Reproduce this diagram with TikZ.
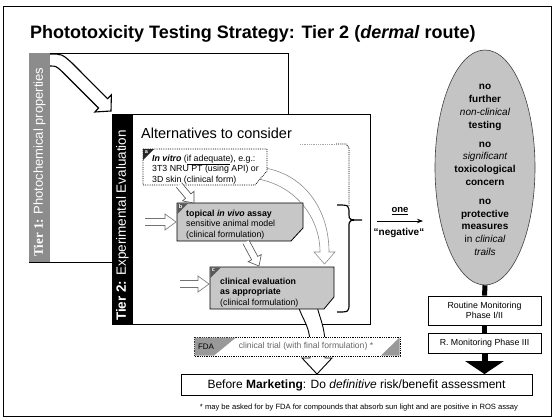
\documentclass[tikz,border=0pt]{standalone}
\usepackage{fontspec}
\setmainfont{Liberation Sans}
\newfontfamily\serifbf{Liberation Serif}
\usetikzlibrary{arrows.meta,shapes.geometric,calc}
\newcommand\fatarrow[6][]{%
  \coordinate (fas) at (#2);
  \coordinate (fae) at (#3);
  \coordinate (fab) at ($(fae)!#6!(fas)$);
  \draw[#1] ($(fas)!#4!90:(fae)$) -- ($(fab)!#4!90:(fae)$) -- ($(fab)!#5!90:(fae)$) -- (fae)
     -- ($(fab)!#5!-90:(fae)$) -- ($(fab)!#4!-90:(fae)$) -- ($(fas)!#4!-90:(fae)$);
}
\tikzset{
  boxtext/.style={anchor=north west, align=left, inner sep=0, font=\fontsize{8.8}{10.5}\selectfont},
  gbox/.style={draw, line width=0.8pt, fill=black!22},
  corner/.style={fill=black!65},
  cletter/.style={text=white, inner sep=0, font=\fontsize{5.5}{6}\selectfont\bfseries},
  smallarrow/.style={draw=black!70, line width=0.6pt, fill=white},
  inarrow/.style={draw=black!55, line width=0.6pt, fill=white},
  mbox/.style={draw, line width=0.8pt, fill=white, minimum width=113pt, align=center, inner sep=1pt, font=\fontsize{8.8}{10.5}\selectfont},
}
\begin{document}
\begin{tikzpicture}[x=1pt,y=-1pt]
\useasboundingbox (0,0) rectangle (554,418);
\fill[white] (0,0) rectangle (554,418);
\draw[line width=1pt] (3,6) rectangle (551,416);

% title
\node[anchor=base west, inner sep=0, font=\fontsize{18}{20}\selectfont\bfseries] (title) at (30,38)
  {Phototoxicity Testing Strategy: Tier 2 (\textit{dermal} route)};

% Tier 1
\draw[line width=0.8pt, fill=white] (29,53) rectangle (288,262);
\fill[black!45] (29,53) rectangle (50,262);
\node[rotate=90, anchor=west, text=white, inner sep=0, font=\fontsize{13}{15}\selectfont] (t1) at (39.5,257)
  {{\serifbf\bfseries Tier 1:} Photochemical properties};

% big arrow tier1 -> tier2
\draw[line width=1.1pt, fill=white, line join=miter]
  (50,54) .. controls (62,54) .. (72,63) -- (107.6,98.7) -- (111.4,94.8) -- (111,111)
  -- (94.8,112) -- (98.6,108.1) -- (62,71.5) .. controls (56,66) .. (50,66);

% Tier 2
\draw[line width=0.8pt, fill=white] (112,114) rectangle (370,324);
\fill[black] (112,114) rectangle (133,324);
\node[rotate=90, anchor=west, text=white, inner sep=0, font=\fontsize{13.5}{15}\selectfont] (t2) at (122.5,321)
  {\textbf{Tier 2:} Experimental Evaluation};

\node[anchor=base west, inner sep=0, font=\fontsize{14.5}{16}\selectfont] (alt) at (141,138) {Alternatives to consider};

% bottom hollow arrow (c -> marketing), under c and FDA
\draw[line width=0.9pt, fill=white]
  (297,300) .. controls (300,318) and (309,322) .. (310,342) -- (310,358) -- (302,358) -- (317,374)
  -- (332,358) -- (325,358) -- (325,342) .. controls (324,322) and (318,316) .. (316,300);

% faint big curved arrow
\draw[draw=black!45, line width=0.6pt, fill=white]
  (265,168) .. controls (305,175) and (329,210) .. (329,252) -- (335,252) -- (324.5,264) -- (314,252) -- (320,252)
  .. controls (320,218) and (296,186) .. (258,179);

% dotted bracket line
\draw[black!35, densely dotted, line width=0.8pt] (300,144) -- (336,144);
\draw[densely dotted, line width=0.9pt] (336,144) -- (346,144) -- (349,148) -- (349,206);

% brace
\draw[line width=1.2pt]
  (337,205) .. controls (349,205) .. (349,214) .. controls (349,220) .. (362,220)
  .. controls (349,220) .. (349,227) -- (349,303) .. controls (349,312) .. (337,312);

% box a
\draw[densely dotted, line width=0.8pt, fill=white] (143,149) -- (267,149) -- (267,171) -- (255,185) -- (143,185) -- cycle;
\fill[black!85] (143,149) -- (154,149) -- (143,160) -- cycle;
\node[cletter] at (146.5,152.5) {a};
\node[boxtext] (a) at (152,154.5)
  {\textbf{\textit{In vitro}} (\underline{if adequate}), e.g.:\\ 3T3 NRU PT (using API) or\\ 3D skin (clinical form)};

% box b
\draw[gbox] (177,203) -- (303,203) -- (303,228) -- (291,241) -- (177,241) -- cycle;
\fill[corner] (177.4,203.4) -- (188,203.4) -- (177.4,214) -- cycle;
\node[cletter] at (180.5,206.5) {b};
\node[boxtext] (b) at (186,209.5)
  {\textbf{topical \textit{in vivo} assay}\\ sensitive animal model\\ (clinical formulation)};

% box c
\draw[gbox] (210,267) -- (334,267) -- (334,297) -- (324,309) -- (210,309) -- cycle;
\fill[corner] (210.4,267.4) -- (221,267.4) -- (210.4,278) -- cycle;
\node[cletter] at (213.5,270.5) {c};
\node[boxtext] (c) at (220,277.5)
  {\textbf{clinical evaluation}\\ \textbf{as appropriate}\\ (clinical formulation)};

% small arrows
\fatarrow[smallarrow]{179,185}{194,203}{3.5pt}{7.5pt}{9pt}
\fatarrow[smallarrow]{246,242}{259,266}{3.5pt}{7.5pt}{9pt}
\fatarrow[inarrow]{145,222}{176,222}{3.5pt}{8pt}{11pt}
\fatarrow[inarrow]{180,284}{209,284}{3.5pt}{8pt}{11pt}

% FDA box
\draw[densely dotted, line width=0.8pt, fill=white] (194,337) rectangle (400,356);
\fill[black!40] (194.5,337.5) -- (236,337.5) -- (214,355.5) -- (194.5,355.5) -- cycle;
\fill[black!40] (399.5,337.5) -- (399.5,355.5) -- (381,355.5) -- cycle;
\node[inner sep=0, font=\fontsize{8}{9}\selectfont] (fda) at (206,346.5) {FDA};
\node[inner sep=0, text=black!60, font=\fontsize{8.6}{10}\selectfont] (ct) at (306,346.5) {clinical trial (with final formulation) *};

% one negative
\coordinate (na) at (377,221);
\coordinate (nb) at (423,221);
\draw[line width=0.9pt, -{Stealth[length=6pt,width=4.5pt]}] (na) -- (nb);
\node[inner sep=0, font=\fontsize{9.5}{11}\selectfont\bfseries] (one) at (400,211) {\underline{one}};
\node[inner sep=0, font=\fontsize{10}{12}\selectfont\bfseries] (neg) at (399,233) {“negative“};

% ellipse
\node[ellipse, draw=black!75, line width=0.6pt, fill=black!23, minimum width=100pt, minimum height=235pt, inner sep=0] (ell) at (485,167.5) {};
\node[align=center, inner sep=0, font=\fontsize{10}{12.8}\selectfont\bfseries] (etxt) at (485,170)
  {no\\ further\\ {\mdseries\itshape non-clinical}\\ testing\\[6pt]
   no\\ {\mdseries\itshape significant}\\ toxicological\\ concern\\[6pt]
   no\\ protective\\ measures\\ {\mdseries in \itshape clinical}\\ {\mdseries\itshape trails}};

% monitoring
\node[mbox, minimum height=29pt] (rm1) at (484.5,310.5) {Routine Monitoring\\Phase I/II};
\node[mbox, minimum height=20pt] (rm2) at (484.5,343) {R. Monitoring Phase III};
\node[draw, line width=0.8pt, minimum width=351pt, minimum height=21pt, inner sep=0, font=\fontsize{12}{14}\selectfont] (bm) at (356.5,385)
  {Before \textbf{Marketing}: Do \textit{definitive} risk/benefit assessment};
\draw[line width=5pt] (ell.south) -- (rm1.north);
\draw[line width=5pt] (rm1.south) -- (rm2.north);
\draw[line width=6pt, -{Triangle[width=38pt,length=13pt]}] (rm2.south) -- (rm2.south |- bm.north);

\node[anchor=base, inner sep=0, font=\fontsize{7.6}{9}\selectfont] (fn) at (359,409)
  {* may be asked for by FDA for compounds that absorb sun light and are positive in ROS assay};
\end{tikzpicture}
\end{document}
